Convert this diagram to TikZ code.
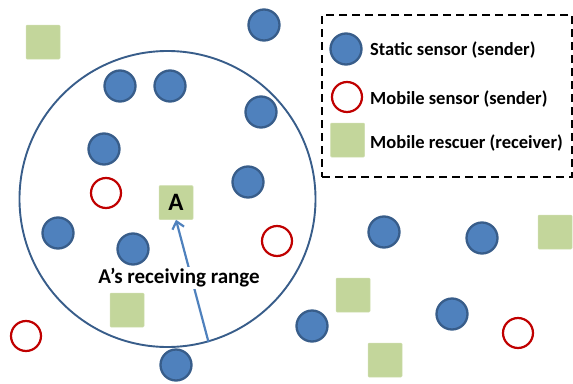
\documentclass[tikz,border=0pt]{standalone}
\usepackage{fontspec}
\setmainfont{Carlito}
\usetikzlibrary{arrows.meta}
\definecolor{sfill}{HTML}{4F81BD}
\definecolor{sline}{HTML}{385D8A}
\definecolor{mred}{HTML}{C00000}
\definecolor{rgreen}{HTML}{C3D69B}
\tikzset{
  static/.style={circle,fill=sfill,draw=sline,line width=2.3pt,minimum size=31pt,inner sep=0pt},
  mobile/.style={circle,fill=white,draw=mred,line width=2.2pt,minimum size=30pt,inner sep=0pt},
  rescuer/.style={rectangle,fill=rgreen,draw=rgreen!80!white,line width=0.5pt,rounded corners=1pt,minimum size=34pt,inner sep=0pt},
  legtext/.style={anchor=west,font=\bfseries\fontsize{18.5}{20}\selectfont,inner sep=0pt},
}
\begin{document}
\begin{tikzpicture}[x=1pt,y=-1pt]
\useasboundingbox (0,0) rectangle (573,383);
% range circle
\node[circle,draw=sline,line width=1.9pt,minimum size=296pt,inner sep=0pt] (range) at (167.5,199) {};
% static sensors
\node[static] (s1) at (264,25) {};
\node[static] (s2) at (120,86) {};
\node[static] (s3) at (170,86) {};
\node[static] (s4) at (261,112) {};
\node[static] (s5) at (104,149) {};
\node[static] (s6) at (248,182) {};
\node[static] (s7) at (58,233) {};
\node[static] (s8) at (133,249) {};
\node[static] (s9) at (176,365) {};
\node[static] (s10) at (384,232) {};
\node[static] (s11) at (482,238) {};
\node[static] (s12) at (312,326) {};
\node[static] (s13) at (452,314) {};
% mobile sensors
\node[mobile] (m1) at (106,193) {};
\node[mobile] (m2) at (277,241) {};
\node[mobile] (m3) at (26,336) {};
\node[mobile] (m4) at (518,333) {};
% rescuers
\node[rescuer] (r1) at (43,42) {};
\node[rescuer] (A) at (176,202.5) {\bfseries\fontsize{25}{27}\selectfont A};
\node[rescuer] (r2) at (127,310) {};
\node[rescuer] (r3) at (555,232) {};
\node[rescuer] (r4) at (353,295) {};
\node[rescuer] (r5) at (385,360) {};
% arrow
\draw[sfill,line width=2.2pt,-{Straight Barb[length=7pt,width=12pt]}] (range.-74) -- (A.south);
\node[fill=white,inner sep=1.5pt,font=\bfseries\fontsize{21}{23}\selectfont] (lbl) at (179,278) {A’s receiving range};
% legend
\node[draw=black,line width=2.4pt,dash pattern=on 8pt off 5pt,minimum width=250pt,minimum height=162pt,inner sep=0pt] (legend) at (447,96) {};
\node[static] (ls) at (346,49) {};
\node[mobile] (lm) at (347,97) {};
\node[rescuer] (lr) at (347.5,140) {};
\node[legtext] (ts) at (370,50) {Static sensor (sender)};
\node[legtext] (tm) at (370,99) {Mobile sensor (sender)};
\node[legtext] (tr) at (370,143) {Mobile rescuer (receiver)};
\end{tikzpicture}
\end{document}
